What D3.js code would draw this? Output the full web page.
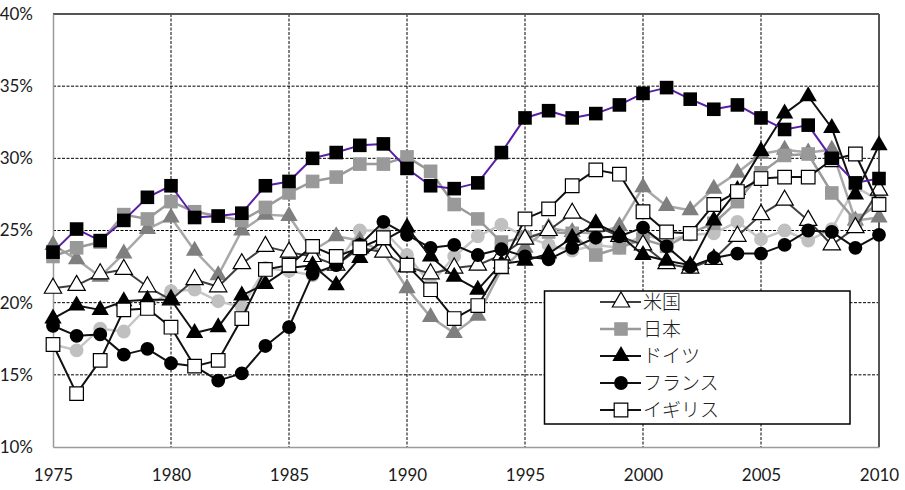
<!DOCTYPE html>
<html><head><meta charset="utf-8">
<script src="https://cdn.jsdelivr.net/npm/d3@7"></script>
<style>html,body{margin:0;padding:0;background:#fff;}svg{display:block;}</style>
</head><body>
<svg id="c" width="905" height="490"></svg>
<script>
const years = d3.range(1975, 2011);
const yTicks = [10, 15, 20, 25, 30, 35, 40];
const xTicks = [1975, 1980, 1985, 1990, 1995, 2000, 2005, 2010];

const usa = [21.0,21.2,22.0,22.3,21.1,20.2,21.6,21.1,22.7,23.9, 23.5,23.2,22.6,23.8,23.5,22.5,22.0,22.4,22.6,23.3, 24.4,25.0,26.2,25.3,24.6,24.0,22.7,22.4,23.0,24.6, 26.1,27.1,25.7,24.0,25.2,27.8];
const japan = [23.2,23.8,24.2,26.1,25.8,27.0,26.3,26.0,25.7,26.6, 27.6,28.4,28.7,29.6,29.6,30.1,29.1,26.8,25.8,24.2, 24.5,24.9,24.8,23.3,23.8,24.4,23.9,24.8,25.5,27.0, 29.0,30.2,30.3,27.6,25.7,26.9];
const germany = [18.9,19.8,19.5,20.1,20.2,20.2,17.9,18.3,20.5,21.3, 22.4,22.6,21.2,23.1,24.3,25.2,23.2,21.8,20.9,22.7, 22.9,23.4,24.5,25.5,24.7,23.3,22.9,22.6,25.7,27.8, 30.5,33.1,34.3,32.1,27.5,30.9];
const france = [18.4,17.7,17.8,16.4,16.8,15.8,15.6,14.6,15.1,17.0, 18.3,22.0,22.6,24.0,25.6,24.7,23.8,24.0,23.3,23.7, 23.2,23.0,23.8,24.5,24.6,25.2,23.9,22.5,23.1,23.4, 23.4,24.0,25.0,24.9,23.8,24.7];
const uk = [17.1,13.7,16.0,19.5,19.6,18.3,15.6,16.0,18.9,22.3, 22.6,23.9,23.2,23.8,24.5,22.6,20.9,18.9,19.8,22.5, 25.8,26.5,28.1,29.2,28.9,26.3,24.9,24.8,26.8,27.7, 28.6,28.7,28.7,29.9,30.3,26.8];
const seriesF = [23.5,25.1,24.3,25.7,27.3,28.1,25.9,26.0,26.2,28.1, 28.4,30.0,30.4,30.9,31.0,29.3,28.1,27.9,28.3,30.4, 32.8,33.3,32.8,33.1,33.7,34.5,34.9,34.1,33.4,33.7, 32.8,32.0,32.3,30.0,28.3,28.6];
const seriesG = [24.0,23.0,21.8,23.4,25.1,25.9,23.6,21.9,25.0,26.1, 26.0,23.6,24.6,24.3,23.5,21.0,19.0,17.9,19.1,22.3, 23.8,25.2,24.9,24.8,25.3,28.0,26.7,26.4,27.9,29.0, 30.3,30.6,30.4,30.6,25.7,25.9];
const seriesH = [17.1,16.7,18.2,18.0,19.7,20.8,20.9,20.1,19.7,22.4, 22.2,21.9,22.6,25.0,25.0,23.3,21.3,23.2,24.6,25.4, 24.6,24.0,23.6,24.0,23.8,24.7,24.3,24.7,24.8,25.6, 24.4,25.0,24.3,25.1,28.0,27.1];

const legendNames = ["米国", "日本", "ドイツ", "フランス", "イギリス"];

const series = [
  {values: seriesH, line: "#c6c6c6", lw: 2.5, shape: "circle", fill: "#c0c0c0", stroke: "none"},
  {values: seriesG, line: "#a8a8a8", lw: 2.5, shape: "triangle", fill: "#7f7f7f", stroke: "none"},
  {values: japan, line: "#9a9a9a", lw: 2.5, shape: "square", fill: "#999999", stroke: "none", legend: 1},
  {values: usa, line: "#404040", lw: 2, shape: "triangle", fill: "#fff", stroke: "#000", legend: 0},
  {values: france, line: "#111", lw: 2, shape: "circle", fill: "#000", stroke: "none", legend: 3},
  {values: germany, line: "#111", lw: 2, shape: "triangle", fill: "#000", stroke: "none", legend: 2},
  {values: uk, line: "#111", lw: 2, shape: "square", fill: "#fff", stroke: "#000", legend: 4},
  {values: seriesF, line: "#5a1fa6", lw: 2, shape: "square", fill: "#000", stroke: "none"}
];

const svg = d3.select("#c");
const x = d3.scaleLinear().domain([1975, 2010]).range([53, 879]);
const y = d3.scaleLinear().domain([10, 40]).range([447, 14]);

// grid
const g = svg.append("g");
g.selectAll(".hg").data(yTicks.filter(v => v > 10 && v < 40)).enter().append("line")
  .attr("x1", x(1975)).attr("x2", x(2010)).attr("y1", d => y(d)).attr("y2", d => y(d))
  .attr("stroke", "#000").attr("stroke-width", 1).attr("stroke-dasharray", "3,1.5");
g.selectAll(".vg").data(xTicks.filter(v => v > 1975 && v < 2010)).enter().append("line")
  .attr("y1", y(40)).attr("y2", y(10)).attr("x1", d => x(d)).attr("x2", d => x(d))
  .attr("stroke", "#000").attr("stroke-width", 1).attr("stroke-dasharray", "3,1.5");

// frame
svg.append("line").attr("x1", x(1975)).attr("x2", x(2010)).attr("y1", y(40)).attr("y2", y(40)).attr("stroke", "#555").attr("stroke-width", 2);
svg.append("line").attr("x1", x(2010)).attr("x2", x(2010)).attr("y1", y(40)).attr("y2", y(10)).attr("stroke", "#555").attr("stroke-width", 2);

// axes
const xAxis = d3.axisBottom(x).tickValues(xTicks).tickSize(0).tickFormat(d3.format("d")).tickPadding(22);
const yAxis = d3.axisLeft(y).tickValues(yTicks).tickSize(0).tickFormat(d => d + "%").tickPadding(20);
const ga = svg.append("g").attr("transform", `translate(0,${y(10)})`).call(xAxis);
const gy = svg.append("g").attr("transform", `translate(${x(1975)},0)`).call(yAxis);
[ga, gy].forEach(a => {
  a.select(".domain").attr("stroke", "#9a9a9a").attr("stroke-width", 1.5);
  a.selectAll("text").attr("font-family", "Lato, 'Open Sans', sans-serif").attr("font-size", 17).attr("fill", "#1a1a1a");
});

const sym = {
  circle: d3.symbol().type(d3.symbolCircle).size(150),
  square: d3.symbol().type(d3.symbolSquare).size(185),
  triangle: d3.symbol().type(d3.symbolTriangle).size(130)
};

const line = d3.line().x((d, i) => x(years[i])).y(d => y(d));
series.forEach(s => {
  const sg = svg.append("g");
  sg.append("path").datum(s.values).attr("d", line).attr("fill", "none")
    .attr("stroke", s.line).attr("stroke-width", s.lw).attr("stroke-linejoin", "round");
  sg.selectAll("path.m").data(s.values).enter().append("path").attr("class", "m")
    .attr("d", sym[s.shape]).attr("transform", (d, i) => `translate(${x(years[i])},${y(d)})`)
    .attr("fill", s.fill).attr("stroke", s.stroke).attr("stroke-width", 1.2);
});

// legend
const lg = svg.append("g");
lg.append("rect").attr("x", 544.5).attr("y", 291).attr("width", 305.5).attr("height", 133)
  .attr("fill", "#fff").attr("stroke", "#000").attr("stroke-width", 1.5);
const rowY = d3.scaleLinear().domain([0, 4]).range([302, 410]);
series.filter(s => s.legend !== undefined).forEach(s => {
  const yy = rowY(s.legend);
  lg.append("line").attr("x1", 600).attr("x2", 641).attr("y1", yy).attr("y2", yy)
    .attr("stroke", s.line).attr("stroke-width", s.lw);
  lg.append("path").attr("d", sym[s.shape]).attr("transform", `translate(621,${yy})`)
    .attr("fill", s.fill).attr("stroke", s.stroke).attr("stroke-width", 1.2);
  lg.append("text").attr("x", 643).attr("y", yy).attr("dy", "0.36em")
    .attr("font-family", "'Noto Sans CJK JP', sans-serif").attr("font-size", 19).attr("font-weight", 300)
    .attr("fill", "#222").text(legendNames[s.legend]);
});
</script>
</body></html>
